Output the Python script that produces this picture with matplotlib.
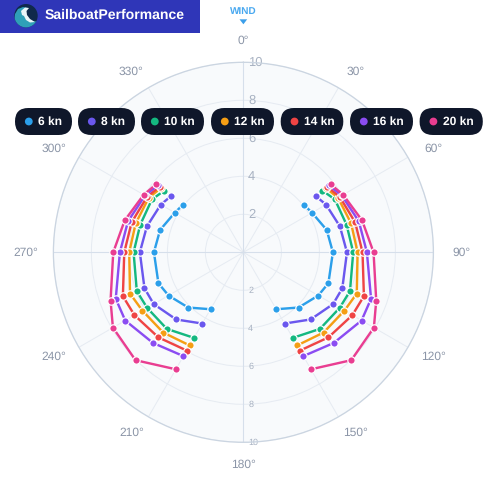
import numpy as np
import matplotlib
matplotlib.use("Agg")
import matplotlib.pyplot as plt
from matplotlib.patches import FancyBboxPatch, Circle, Polygon, Rectangle

plt.rcParams['font.family'] = ['Liberation Sans', 'DejaVu Sans']
plt.rcParams['text.hinting'] = 'no_hinting'
plt.rcParams['text.hinting_factor'] = 1

W, H, DPI = 500, 479, 100
PX = 72 / DPI

# ---- data ----
twa = [52, 60, 75, 90, 110, 120, 135, 150]
series_names = ['6 kn', '8 kn', '10 kn', '12 kn', '14 kn', '16 kn', '20 kn']
speed_6 = [4.05, 4.17, 4.54, 4.71, 4.76, 4.55, 4.11, 3.46]
speed_8 = [4.82, 5.02, 5.26, 5.45, 5.54, 5.45, 5.00, 4.33]
speed_10 = [5.28, 5.56, 5.62, 5.78, 5.97, 5.85, 5.70, 5.20]
speed_12 = [5.50, 5.75, 5.87, 6.01, 6.35, 6.14, 5.97, 5.66]
speed_14 = [5.60, 5.85, 6.09, 6.27, 6.75, 6.62, 6.33, 5.97]
speed_16 = [5.72, 5.98, 6.29, 6.50, 7.15, 7.18, 6.74, 6.31]
speed_20 = [5.82, 6.06, 6.47, 6.85, 7.44, 7.93, 8.03, 7.11]
series_values = [speed_6, speed_8, speed_10, speed_12, speed_14, speed_16, speed_20]
series_colors = ['#2b9fea', '#6a57ee', '#14b880', '#f59e14', '#ef4444', '#8b4cf2', '#e93d91']
angle_ticks = [0, 30, 60, 90, 120, 150, 180, 210, 240, 270, 300, 330]
radial_ticks = [2, 4, 6, 8, 10]

fig = plt.figure(figsize=(W / DPI, H / DPI), dpi=DPI, facecolor='white')

# ---- polar chart ----
cx, cy, R = 243.4, 252.3, 190
ax = fig.add_axes([(cx - R) / W, (H - cy - R) / H, 2 * R / W, 2 * R / H], projection='polar')
ax.set_theta_zero_location('N')
ax.set_theta_direction(-1)
ax.set_ylim(0, 10)
ax.set_facecolor('#f8fafc')
ax.spines['polar'].set_color('#cbd5e1')
ax.spines['polar'].set_linewidth(1.3 * PX)
ax.set_xticks(np.deg2rad(angle_ticks))
ax.set_xticklabels([])
ax.tick_params(axis='x', length=0)
ax.set_yticks(radial_ticks)
ax.set_yticklabels([])
ax.tick_params(axis='y', length=0)
ax.grid(True, color='#e6ebf2', linewidth=1.0 * PX)
ax.set_axisbelow(True)
for a in (0, 90, 180, 270):
    ax.plot([np.deg2rad(a)] * 2, [0, 10], color='#d6dfeb', lw=1.1 * PX, zorder=1)

for a in angle_ticks:
    s, c = np.sin(np.deg2rad(a)), np.cos(np.deg2rad(a))
    dx = 212 * s + 6 * np.sign(round(s, 6))
    dy = 212 * c if a in (0, 180) else 208 * c
    ax.annotate(f'{a}°', xy=(0, 0), xytext=(dx * PX, dy * PX), textcoords='offset points',
                fontsize=12 * PX, color='#8b95a7', ha='center', va='center',
                annotation_clip=False)

for r in radial_ticks:
    ax.annotate(str(r), xy=(0, r), xytext=(4.6 * PX, 0), textcoords='offset points',
                fontsize=12.5 * PX, color='#a8b2c2', ha='left', va='center', zorder=2)
    ax.annotate(str(r), xy=(np.pi, r), xytext=(4.8 * PX, 0), textcoords='offset points',
                fontsize=9.5 * PX, color='#a8b2c2', ha='left', va='center', zorder=2,
                annotation_clip=False)

for i, (vals, col) in enumerate(zip(series_values, series_colors)):
    for sign in (1, -1):
        th = np.deg2rad(sign * np.array(twa, dtype=float))
        ax.plot(th, vals, color=col, lw=2.4 * PX, marker='o', ms=7.4 * PX,
                mfc=col, mec='white', mew=1.2 * PX, zorder=5 + i, clip_on=False)

# ---- overlay in pixel coordinates ----
ov = fig.add_axes([0, 0, 1, 1], zorder=10)
ov.set_xlim(0, W)
ov.set_ylim(H, 0)
ov.axis('off')
ov.patch.set_alpha(0)

ov.add_patch(Rectangle((0, 0), 200, 33, fc='#2f36b8', ec='none'))
# logo
logo = Circle((26, 15.7), 11.7, fc='#10294c', ec='none')
ov.add_patch(logo)
wave = Polygon([(14, 20), (15, 14), (18, 9), (23, 7), (28, 8), (25, 12), (27, 18), (32, 22),
                (38, 21), (36, 27), (24, 29), (16, 26)], fc='#2f9fb8', ec='none')
ov.add_patch(wave)
foam = Polygon([(21, 11), (25, 7.5), (29, 8), (26.5, 11), (27, 15), (30, 19), (35, 22),
                (30, 22.5), (26, 20), (24, 16), (22, 15)], fc='#eaf4f8', ec='none')
ov.add_patch(foam)
wave.set_clip_path(logo)
foam.set_clip_path(logo)
ov.text(44.5, 15.7, 'SailboatPerformance', color='white', fontsize=14 * PX,
        fontweight='bold', ha='left', va='center')

# wind marker
ov.text(243, 11.5, 'WIND', color='#4aa9f0', fontsize=10 * PX, fontweight='bold',
        ha='center', va='center')
ov.add_patch(Polygon([(239.5, 19.3), (247.2, 19.3), (243.4, 24.3)], fc='#3c9fea', ec='none'))

# legend pills
pill_left = [15, 78, 141, 211, 280.7, 350, 419.6]
pill_right = [72, 135, 204, 274, 343.3, 413, 482.8]
for name, col, l, r in zip(series_names, series_colors, pill_left, pill_right):
    ov.add_patch(FancyBboxPatch((l, 108), r - l, 27,
                                boxstyle='round,pad=0,rounding_size=13.3',
                                fc='#0f172a', ec='none', zorder=3))
    ov.add_patch(Circle((l + 13.8, 121.5), 3.9, fc=col, ec='none', zorder=4))
    ov.text(l + 23.4, 121.7, name, color='white', fontsize=11.8 * PX, fontweight='bold',
            ha='left', va='center', zorder=4)

fig.savefig('out.png', dpi=DPI, facecolor='white')
